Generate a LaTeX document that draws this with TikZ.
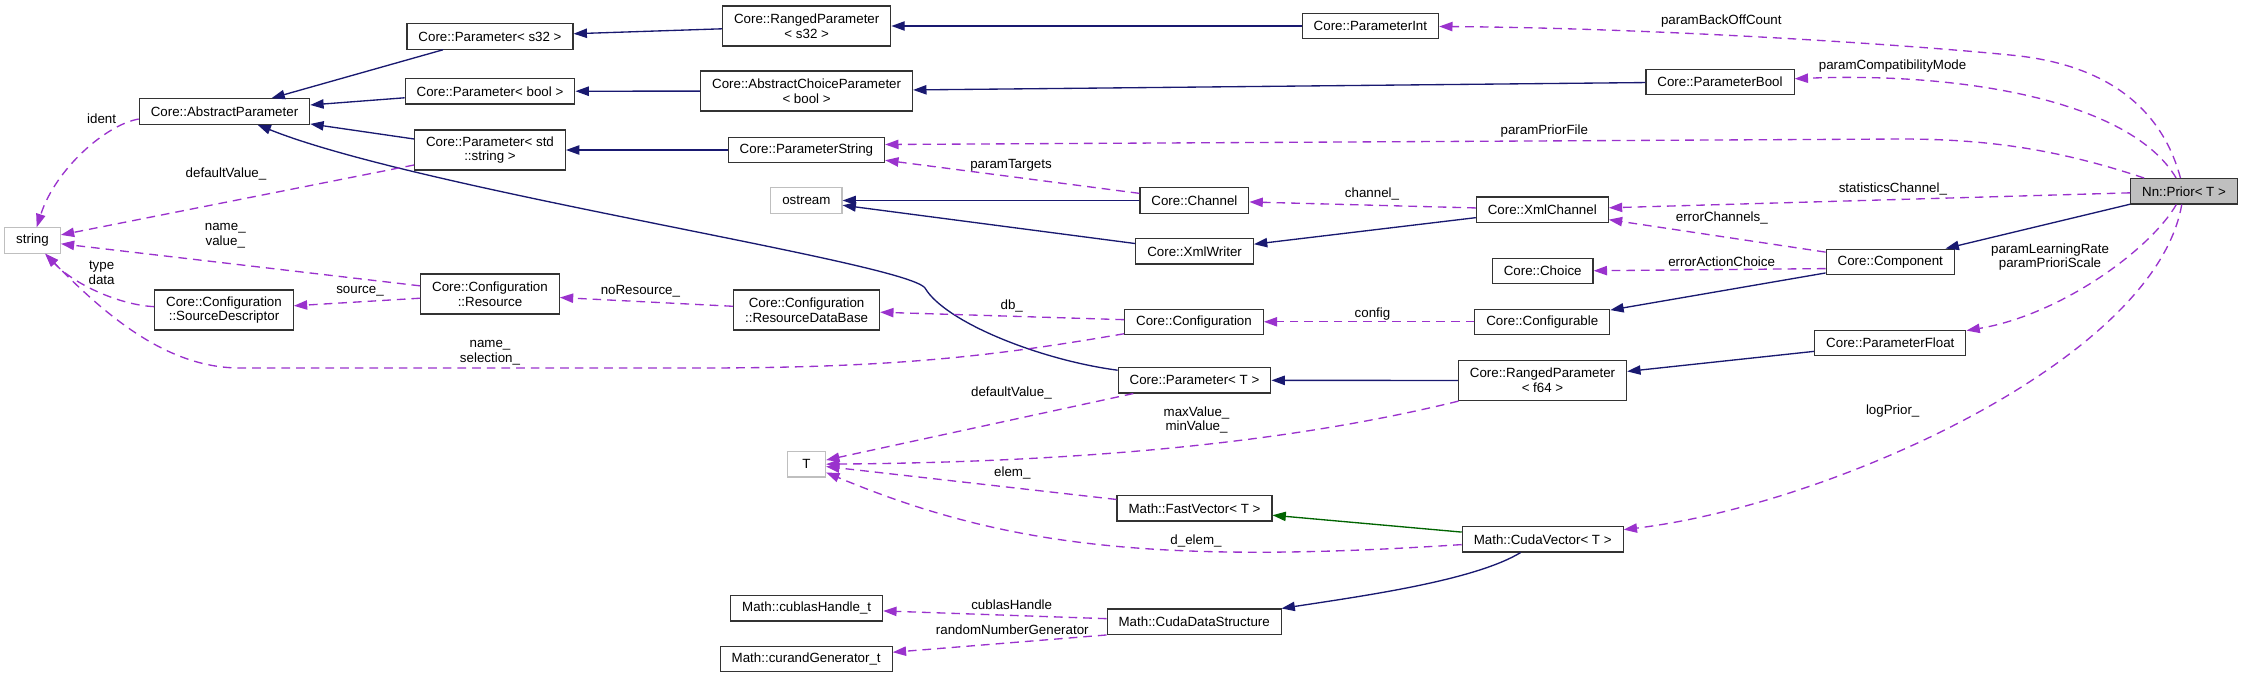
\documentclass[tikz,border=0pt]{standalone}
\usepackage{fontspec}
\setmainfont{Liberation Sans}
\usetikzlibrary{arrows.meta}
\definecolor{inhblue}{HTML}{191970}
\definecolor{usepurple}{HTML}{9A32CD}
\definecolor{tmplgreen}{HTML}{006400}
\definecolor{extgray}{HTML}{BFBFBF}

\begin{document}
\begin{tikzpicture}[
  x=0.75pt, y=-0.75pt,
  cls/.style={rectangle, draw=black!80, fill=white, line width=0.9pt, inner xsep=8.6pt, inner ysep=0pt, minimum height=19pt, align=center, font=\fontsize{10}{11}\selectfont},
  cls2/.style={cls, minimum height=30pt},
  extcls/.style={cls, draw=extgray},
  focus/.style={cls, fill=extgray},
  inh/.style={draw=inhblue, line width=1pt, -{Triangle[length=10pt,width=7pt]}},
  tmpl/.style={draw=tmplgreen, line width=1pt, -{Triangle[length=10pt,width=7pt]}},
  usage/.style={draw=usepurple, line width=1pt, dash pattern=on 6.5pt off 4.5pt, -{Triangle[length=10pt,width=7pt]}},
  lbl/.style={inner sep=0pt, align=center, font=\fontsize{10}{11}\selectfont}
]
\useasboundingbox (0,0) rectangle (2243,678);

% classes
\node[extcls] (string) at (32.5,240.5) {string};
\node[cls] (absparam) at (224.5,111.5) {Core::AbstractParameter};
\node[cls2] (srcdesc) at (224,310) {Core::Configuration\\::SourceDescriptor};
\node[cls] (ps32) at (490,36.5) {Core::Parameter< s32 >};
\node[cls] (pbool) at (490,91.3) {Core::Parameter< bool >};
\node[cls2] (pstdstr) at (490,150) {Core::Parameter< std\\::string >};
\node[cls2] (resource) at (490,294) {Core::Configuration\\::Resource};
\node[cls2] (rps32) at (806.7,26) {Core::RangedParameter\\< s32 >};
\node[cls2] (acpbool) at (806.6,91) {Core::AbstractChoiceParameter\\< bool >};
\node[cls] (pstring) at (806.4,150) {Core::ParameterString};
\node[extcls] (ostream) at (806.4,200.5) {ostream};
\node[cls2] (resdb) at (806.6,310) {Core::Configuration\\::ResourceDataBase};
\node[extcls, minimum width=28.5pt] (tnode) at (806.5,464.3) {T};
\node[cls] (cublas) at (806.7,608.3) {Math::cublasHandle\_t};
\node[cls] (curand) at (806.2,659.2) {Math::curandGenerator\_t};
\node[cls] (channel) at (1194.4,200.5) {Core::Channel};
\node[cls] (xmlwriter) at (1194.6,251.3) {Core::XmlWriter};
\node[cls] (config) at (1194,321.8) {Core::Configuration};
\node[cls] (ptmpl) at (1194.5,380.3) {Core::Parameter< T >};
\node[cls] (fastvec) at (1194.5,508.3) {Math::FastVector< T >};
\node[cls] (cudads) at (1194.2,621.7) {Math::CudaDataStructure};
\node[cls] (pint) at (1370.4,26) {Core::ParameterInt};
\node[cls] (xmlchan) at (1542.3,209.7) {Core::XmlChannel};
\node[cls] (choice) at (1542.7,271.2) {Core::Choice};
\node[cls] (configurable) at (1542.3,321.8) {Core::Configurable};
\node[cls2] (rpf64) at (1542.5,380.5) {Core::RangedParameter\\< f64 >};
\node[cls] (cudavec) at (1542.7,539.3) {Math::CudaVector< T >};
\node[cls] (parambool) at (1720,81.8) {Core::ParameterBool};
\node[cls] (component) at (1890.3,261.8) {Core::Component};
\node[cls] (pfloat) at (1890.3,343.2) {Core::ParameterFloat};
\node[focus] (prior) at (2184,191.3) {Nn::Prior< T >};

% inheritance
\draw[inh] (ps32) -- (absparam);
\draw[inh] (pbool) -- (absparam);
\draw[inh] (pstdstr) -- (absparam);
\draw[inh] (ptmpl) .. controls (1040,360) and (945,322) .. (925,288) .. controls (905,262) and (420,190) .. (absparam);
\draw[inh] (rps32) -- (ps32);
\draw[inh] (pint) -- (rps32);
\draw[inh] (acpbool) -- (pbool);
\draw[inh] (parambool) -- (acpbool);
\draw[inh] (pstring) -- (pstdstr);
\draw[inh] (channel) -- (ostream);
\draw[inh] (xmlwriter) -- (ostream);
\draw[inh] (xmlchan) -- (xmlwriter);
\draw[inh] (component) -- (configurable);
\draw[inh] (prior) -- (component);
\draw[inh] (pfloat) -- (rpf64);
\draw[inh] (rpf64) -- (ptmpl);
\draw[inh] (cudavec) .. controls (1475,580) and (1370,595) .. (cudads);
\draw[tmpl] (cudavec) -- (fastvec);

% members
\draw[usage] (absparam.185) .. controls (105,125) and (55,170) .. (string);
\draw[usage] (pstdstr) -- (string);
\draw[usage] (resource) -- (string);
\draw[usage] (srcdesc) .. controls (120,305) and (75,285) .. (string);
\draw[usage] (config) .. controls (1000,355) and (900,368) .. (700,368) -- (240,368) .. controls (170,368) and (110,320) .. (string);
\draw[usage] (resource) -- (srcdesc);
\draw[usage] (resdb) -- (resource);
\draw[usage] (config) -- (resdb);
\draw[usage] (configurable) -- (config);
\draw[usage] (channel) -- (pstring);
\draw[usage] (xmlchan) -- (channel);
\draw[usage] (component) -- (xmlchan);
\draw[usage] (component.186) -- (choice);
\draw[usage] (prior) -- (xmlchan);
\draw[usage] (prior) .. controls (2060,150) and (1990,139) .. (1900,139) -- (pstring.4);
\draw[usage] (prior) .. controls (2130,100) and (1960,72) .. (parambool);
\draw[usage] (prior) .. controls (2165,120) and (2120,65) .. (2010,55) .. controls (1900,44) and (1650,28) .. (pint);
\draw[usage] (prior) .. controls (2150,250) and (2060,315) .. (pfloat);
\draw[usage] (prior) .. controls (2155,360) and (1830,505) .. (cudavec);
\draw[usage] (ptmpl) -- (tnode);
\draw[usage] (rpf64) .. controls (1300,440) and (1100,462) .. (tnode);
\draw[usage] (fastvec) -- (tnode);
\draw[usage] (cudavec) .. controls (1150,565) and (1000,545) .. (tnode);
\draw[usage] (cudads) -- (cublas);
\draw[usage] (cudads.south west) -- (curand);

% labels
\node[lbl] (l-ident) at (101.6,118.3) {ident};
\node[lbl] (l-defval) at (226,174.3) {defaultValue\_};
\node[lbl] (l-namevalue) at (225.3,236) {name\_\\value\_};
\node[lbl] (l-typedata) at (101.6,273) {type\\data};
\node[lbl] (l-source) at (360,291) {source\_};
\node[lbl] (l-nores) at (640.4,291) {noResource\_};
\node[lbl] (l-namesel) at (490,353) {name\_\\selection\_};
\node[lbl] (l-targets) at (1011,165) {paramTargets};
\node[lbl] (l-channel) at (1372,194.3) {channel\_};
\node[lbl] (l-db) at (1011.7,306) {db\_};
\node[lbl] (l-config) at (1372.5,314) {config};
\node[lbl] (l-backoff) at (1721.3,20.7) {paramBackOffCount};
\node[lbl] (l-compat) at (1892.6,65.7) {paramCompatibilityMode};
\node[lbl] (l-priorfile) at (1544.3,131) {paramPriorFile};
\node[lbl] (l-stats) at (1892.9,189) {statisticsChannel\_};
\node[lbl] (l-errch) at (1721.8,217.7) {errorChannels\_};
\node[lbl] (l-erract) at (1721.6,261.7) {errorActionChoice};
\node[lbl] (l-rate) at (2050,257) {paramLearningRate\\paramPrioriScale};
\node[lbl] (l-logprior) at (1892.7,411) {logPrior\_};
\node[lbl] (l-tdefval) at (1011.4,393.3) {defaultValue\_};
\node[lbl] (l-minmax) at (1196.5,420) {maxValue\_\\minValue\_};
\node[lbl] (l-elem) at (1012.3,473.3) {elem\_};
\node[lbl] (l-delem) at (1196,540.7) {d\_elem\_};
\node[lbl] (l-cublas) at (1011.7,605) {cublasHandle};
\node[lbl] (l-curand) at (1012.3,630) {randomNumberGenerator};
\end{tikzpicture}
\end{document}
